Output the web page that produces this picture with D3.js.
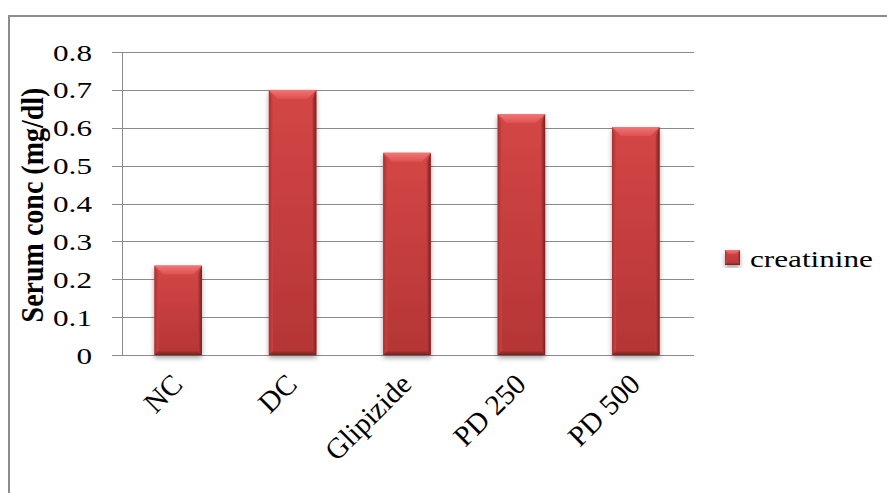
<!DOCTYPE html>
<html><head><meta charset="utf-8">
<script src="https://cdn.jsdelivr.net/npm/d3@7/dist/d3.min.js"></script>
<style>body{margin:0;background:#fff}svg{display:block}
text{font-family:"Liberation Serif","Times New Roman",serif;fill:#000}
</style>
</head><body>
<script>
const categories = ["NC", "DC", "Glipizide", "PD 250", "PD 500"];
const creatinine = [0.236, 0.70, 0.534, 0.636, 0.602];
const seriesName = "creatinine";
const yTicks = [0, 0.1, 0.2, 0.3, 0.4, 0.5, 0.6, 0.7, 0.8];
const yTitle = "Serum conc (mg/dl)";

const W = 887, H = 493;
const svg = d3.select("body").append("svg").attr("width", W).attr("height", H);

const defs = svg.append("defs");
function grad(id, x1, y1, x2, y2, stops) {
  const g = defs.append("linearGradient").attr("id", id).attr("x1", x1).attr("y1", y1).attr("x2", x2).attr("y2", y2);
  stops.forEach(s => g.append("stop").attr("offset", s[0]).attr("stop-color", s[1]));
}
grad("face", 0, 0, 0, 1, [["0%", "#d44646"], ["100%", "#b53535"]]);
grad("lft", 0, 0, 1, 0, [["0%", "#a83030"], ["100%", "#cc4343"]]);
grad("rgt", 1, 0, 0, 0, [["0%", "#7e1f1f"], ["100%", "#bd3b3b"]]);
grad("top", 0, 0, 0, 1, [["0%", "#f27676"], ["100%", "#de5050"]]);
grad("bot", 0, 1, 0, 0, [["0%", "#7a1e1e"], ["100%", "#ad3333"]]);
const sh = defs.append("filter").attr("id","shadow").attr("x","-30%").attr("y","-10%").attr("width","160%").attr("height","130%");
sh.append("feDropShadow").attr("dx",0).attr("dy",3).attr("stdDeviation",2.5).attr("flood-color","#000").attr("flood-opacity",0.35);

// outer border (top and left only visible)
svg.append("line").attr("x1",9).attr("x2",W).attr("y1",16).attr("y2",16).attr("stroke","#8c8c8c").attr("stroke-width",2);
svg.append("line").attr("x1",9).attr("x2",9).attr("y1",15).attr("y2",H).attr("stroke","#8c8c8c").attr("stroke-width",2);

const x = d3.scaleBand().domain(categories).range([121, 693]).paddingInner(0.585).paddingOuter(0.2925);
const y = d3.scaleLinear().domain([0, 0.8]).range([355, 52]);

// gridlines
svg.append("g").selectAll("line").data(yTicks).join("line")
  .attr("x1",112).attr("x2",694)
  .attr("y1",d=>Math.round(y(d))+0.5).attr("y2",d=>Math.round(y(d))+0.5)
  .attr("stroke","#8a8a8a").attr("stroke-width",1);
// y axis line
svg.append("line").attr("x1",122.5).attr("x2",122.5).attr("y1",y(0.8)).attr("y2",y(0)+0.5)
  .attr("stroke","#8a8a8a").attr("stroke-width",1);

// tick labels
svg.append("g").selectAll("text").data(yTicks).join("text")
  .attr("transform",d=>`translate(92,${y(d)+8.5}) scale(1.3,1)`)
  .attr("text-anchor","end")
  .attr("font-size",24)
  .text(d=>d3.format("")(d));

// y title
svg.append("text")
  .attr("transform","translate(43,205) scale(1.1,1) rotate(-90)")
  .attr("text-anchor","middle")
  .attr("font-weight","bold").attr("font-size",28)
  .text(yTitle);

function bevelBar(g, x0, y0, w, h, b, bs) {
  const grp = g.append("g").attr("filter","url(#shadow)");
  grp.append("rect").attr("x",x0).attr("y",y0).attr("width",w).attr("height",h).attr("fill","url(#face)");
  grp.append("polygon").attr("points",[[x0,y0],[x0+bs,y0+b],[x0+bs,y0+h-bs],[x0,y0+h]].join(" ")).attr("fill","url(#lft)");
  grp.append("polygon").attr("points",[[x0+w,y0],[x0+w,y0+h],[x0+w-bs,y0+h-bs],[x0+w-bs,y0+b]].join(" ")).attr("fill","url(#rgt)");
  grp.append("polygon").attr("points",[[x0,y0+h],[x0+w,y0+h],[x0+w-bs,y0+h-bs],[x0+bs,y0+h-bs]].join(" ")).attr("fill","url(#bot)");
  grp.append("polygon").attr("points",[[x0,y0],[x0+w,y0],[x0+w-b,y0+b],[x0+b,y0+b]].join(" ")).attr("fill","url(#top)");
}

const bars = svg.append("g");
categories.forEach((c,i)=>{
  const x0 = x(c), w = x.bandwidth(), y0 = y(creatinine[i]), h = y(0) - y0;
  bevelBar(bars, x0, y0, w, h, 9, 4);
});

// x labels
svg.append("g").selectAll("text").data(categories).join("text")
  .attr("transform",d=>`translate(${x(d)+x.bandwidth()/2+6},386) rotate(-45)`)
  .attr("text-anchor","end")
  .attr("font-size",29)
  .text(d=>d);

// legend
const lgd = svg.append("g");
bevelBar(lgd, 725, 250, 15, 15, 4, 2);
lgd.append("text").attr("transform","translate(750,267) scale(1.3,1)")
  .attr("font-size",24).text(seriesName);
</script>
</body></html>
